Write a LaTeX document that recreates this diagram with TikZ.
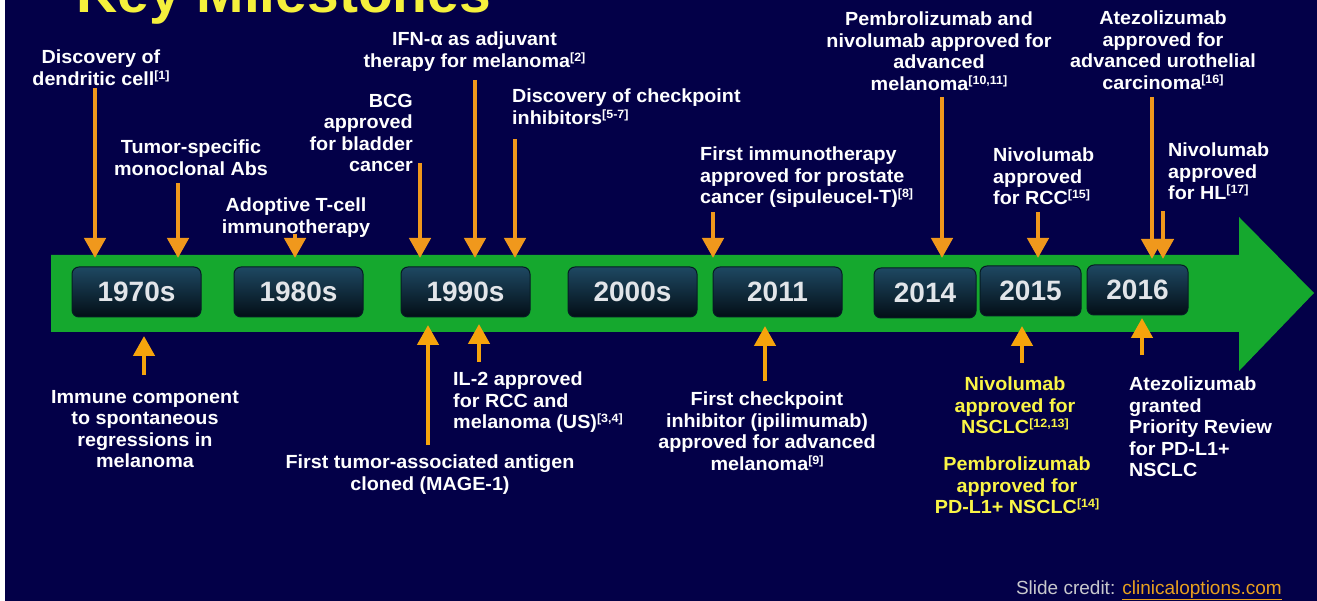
\documentclass[tikz,border=0pt]{standalone}
\usepackage{fontspec}
\setmainfont{Liberation Sans}
\newfontfamily\lblfont{Liberation Sans}[FakeStretch=1.04]
\usetikzlibrary{arrows.meta}
\definecolor{navy}{RGB}{3,0,72}
\definecolor{shaftgreen}{RGB}{21,168,46}
\definecolor{orgdown}{RGB}{240,152,28}
\definecolor{orgup}{RGB}{246,164,12}
\definecolor{boxtop}{RGB}{30,72,98}
\definecolor{boxbot}{RGB}{3,14,22}
\definecolor{boxedge}{RGB}{6,28,36}
\definecolor{yeartext}{RGB}{226,229,233}
\definecolor{ytext}{RGB}{250,245,70}
\definecolor{titleyellow}{RGB}{245,240,60}
\definecolor{creditgrey}{RGB}{200,200,205}
\definecolor{linkorange}{RGB}{232,160,30}
\newcommand{\refmark}[1]{\raisebox{6pt}{\fontsize{12}{12}\selectfont[#1]}}
\tikzset{
  lbl/.style={font=\lblfont\bfseries\fontsize{19}{21.5}\selectfont, text=white, inner sep=0pt},
  ylbl/.style={lbl, text=ytext},
  yearbox/.style={rounded corners=7pt, draw=boxedge, line width=1pt, top color=boxtop, bottom color=boxbot,
    minimum height=50pt, inner sep=0pt, font=\bfseries\fontsize{28}{28}\selectfont, text=yeartext},
  darr/.style={draw=orgdown, line width=4.5pt, -{Triangle[width=21pt,length=20pt]}},
  uarr/.style={draw=orgup, line width=4.5pt, -{Triangle[width=21pt,length=20pt]}}
}
\begin{document}
\begin{tikzpicture}[x=1pt,y=-1pt]
\useasboundingbox (0,0) rectangle (1317,601);
\fill[white] (0,0) rectangle (1317,601);
\fill[navy] (5,0) rectangle (1317,601);
% title
\node[anchor=base west, inner sep=0pt, font=\bfseries\fontsize{57}{57}\selectfont, text=titleyellow] (title) at (76,13) {Key Milestones};
% green arrow
\fill[shaftgreen] (51,255) -- (1239,255) -- (1239,217) -- (1314,293) -- (1239,371) -- (1239,332) -- (51,332) -- cycle;
% year boxes
\node[yearbox, minimum width=129pt] (y1970) at (136.5,292) {1970s};
\node[yearbox, minimum width=129pt] (y1980) at (298.5,292) {1980s};
\node[yearbox, minimum width=129pt] (y1990) at (465.5,292) {1990s};
\node[yearbox, minimum width=129pt] (y2000) at (632.5,292) {2000s};
\node[yearbox, minimum width=129pt] (y2011) at (777.5,292) {2011};
\node[yearbox, minimum width=102pt] (y2014) at (925,293) {2014};
\node[yearbox, minimum width=101pt] (y2015) at (1030.5,291) {2015};
\node[yearbox, minimum width=101pt] (y2016) at (1137.5,290) {2016};
% top labels
\node[lbl, align=center, anchor=north] (l1) at (101,50) {Discovery of\\dendritic cell\refmark{1}};
\node[lbl, align=center, anchor=north] (l2) at (191,140) {Tumor-specific\\monoclonal Abs};
\node[lbl, align=center, anchor=north] (l3) at (296,198) {Adoptive T-cell\\immunotherapy};
\node[lbl, align=right, anchor=north east] (l4) at (413,94) {BCG\\approved\\for bladder\\cancer};
\node[lbl, align=center, anchor=north] (l5) at (474.5,32) {IFN-α as adjuvant\\therapy for melanoma\refmark{2}};
\node[lbl, align=left, anchor=north west] (l6) at (512,89) {Discovery of checkpoint\\inhibitors\refmark{5-7}};
\node[lbl, align=left, anchor=north west] (l7) at (700,147) {First immunotherapy\\approved for prostate\\cancer (sipuleucel-T)\refmark{8}};
\node[lbl, align=center, anchor=north] (l8) at (939,12) {Pembrolizumab and\\nivolumab approved for\\advanced\\melanoma\refmark{10,11}};
\node[lbl, align=left, anchor=north west] (l9) at (993,148) {Nivolumab\\approved\\for RCC\refmark{15}};
\node[lbl, align=center, anchor=north] (l10) at (1163,11) {Atezolizumab\\approved for\\advanced urothelial\\carcinoma\refmark{16}};
\node[lbl, align=left, anchor=north west] (l11) at (1168,143) {Nivolumab\\approved\\for HL\refmark{17}};
% bottom labels
\node[lbl, align=center, anchor=north] (b1) at (145,390) {Immune component\\to spontaneous\\regressions in\\melanoma};
\node[lbl, align=center, anchor=north] (b2) at (430,455) {First tumor-associated antigen\\cloned (MAGE-1)};
\node[lbl, align=left, anchor=north west] (b3) at (453,372) {IL-2 approved\\for RCC and\\melanoma (US)\refmark{3,4}};
\node[lbl, align=center, anchor=north] (b4) at (767,392) {First checkpoint\\inhibitor (ipilimumab)\\approved for advanced\\melanoma\refmark{9}};
\node[ylbl, align=center, anchor=north] (b5) at (1015,377) {Nivolumab\\approved for\\NSCLC\refmark{12,13}};
\node[ylbl, align=center, anchor=north] (b6) at (1017,457) {Pembrolizumab\\approved for\\PD-L1+ NSCLC\refmark{14}};
\node[lbl, align=left, anchor=north west] (b7) at (1129,377) {Atezolizumab\\granted\\Priority Review\\for PD-L1+\\NSCLC};
% arrow end points
\coordinate (d1s) at (95,88);    \coordinate (d1e) at (95,258);
\coordinate (d2s) at (178,183);  \coordinate (d2e) at (178,258);
\coordinate (d3s) at (295,234);  \coordinate (d3e) at (295,258);
\coordinate (d4s) at (420,163);  \coordinate (d4e) at (420,258);
\coordinate (d5s) at (475,80);   \coordinate (d5e) at (475,258);
\coordinate (d6s) at (515,139);  \coordinate (d6e) at (515,258);
\coordinate (d7s) at (713,212);  \coordinate (d7e) at (713,258);
\coordinate (d8s) at (942,97);   \coordinate (d8e) at (942,258);
\coordinate (d9s) at (1038,212); \coordinate (d9e) at (1038,258);
\coordinate (d10s) at (1152,97); \coordinate (d10e) at (1152,259);
\coordinate (d11s) at (1163,211);\coordinate (d11e) at (1163,259);
\coordinate (u1s) at (144,375);  \coordinate (u1e) at (144,336);
\coordinate (u2s) at (428,445);  \coordinate (u2e) at (428,325);
\coordinate (u3s) at (479,362);  \coordinate (u3e) at (479,324);
\coordinate (u4s) at (765,381);  \coordinate (u4e) at (765,326);
\coordinate (u5s) at (1022,363); \coordinate (u5e) at (1022,326);
\coordinate (u6s) at (1142,355); \coordinate (u6e) at (1142,318);
\foreach \i in {1,...,11} {\draw[darr] (d\i s) -- (d\i e);}
\foreach \i in {1,...,6} {\draw[uarr] (u\i s) -- (u\i e);}
% credit
\node[anchor=base east, inner sep=0pt, font=\fontsize{19}{19}\selectfont] (credit) at (1282,594)
  {\textcolor{creditgrey}{Slide credit: }\textcolor{linkorange}{\underline{clinicaloptions.com}}};
\end{tikzpicture}
\end{document}
